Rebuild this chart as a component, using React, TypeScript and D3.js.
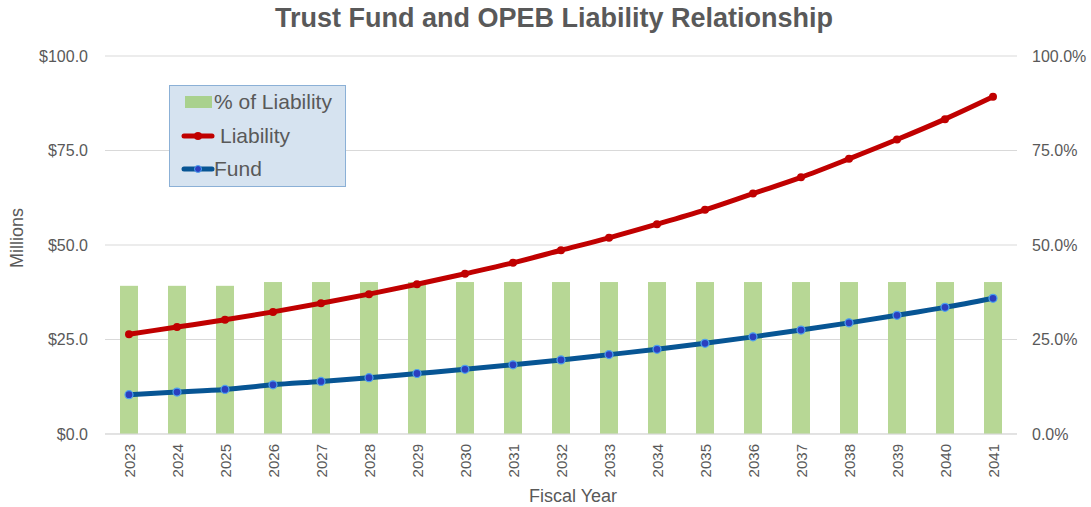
import React from "react";
import * as d3 from "d3";

const years = ["2023","2024","2025","2026","2027","2028","2029","2030","2031","2032","2033","2034","2035","2036","2037","2038","2039","2040","2041"];
const pctOfLiability = [39.2,39.2,39.2,40.2,40.2,40.2,40.2,40.2,40.2,40.2,40.2,40.2,40.2,40.2,40.2,40.2,40.2,40.2,40.2];
const liability = [26.4,28.3,30.2,32.3,34.6,37.0,39.6,42.4,45.3,48.6,51.9,55.5,59.3,63.6,67.9,72.8,77.9,83.3,89.2];
const fund = [10.4,11.1,11.8,13.0,13.9,14.9,16.0,17.1,18.3,19.6,21.0,22.4,24.0,25.7,27.5,29.4,31.4,33.5,35.9];
const leftTicks = [0,25,50,75,100];
const rightTicks = [0,25,50,75,100];

const W = 1091, H = 507;
const left = 105, right = 1017, top = 56, bottom = 434;
const FONT = "'Liberation Sans', Arial, sans-serif";
const TXT = "#595959";

export default function App() {
  const x = d3.scaleBand().domain(years).range([left, right]).paddingInner(0.625).paddingOuter(0.3125);
  const xc = d3.scalePoint().domain(years).range([left + 24, right - 24]);
  const yL = d3.scaleLinear().domain([0, 100]).range([bottom, top]);
  const yR = d3.scaleLinear().domain([0, 100]).range([bottom, top]);
  const line = d3.line<number>().x((_, i) => xc(years[i])!).y((d) => yL(d)).curve(d3.curveMonotoneX);

  return (
    <svg width={W} height={H} style={{ position: "absolute", left: 0, top: 0, background: "#fff", fontFamily: FONT }}>
      <text x={554} y={27} textAnchor="middle" fontSize={27} fontWeight="bold" fill={TXT}>
        Trust Fund and OPEB Liability Relationship
      </text>
      {leftTicks.map((t) => (
        <g key={"g" + t}>
          <line x1={left} x2={right} y1={yL(t)} y2={yL(t)} stroke="#d9d9d9" strokeWidth={1} />
          <text x={88} y={yL(t) + 5.5} textAnchor="end" fontSize={16} fill={TXT}>
            {"$" + d3.format(".1f")(t)}
          </text>
        </g>
      ))}
      {rightTicks.map((t) => (
        <text key={"r" + t} x={1032} y={yR(t) + 5.5} textAnchor="start" fontSize={16} fill={TXT}>
          {d3.format(".1f")(t) + "%"}
        </text>
      ))}
      <text transform={`translate(23,238) rotate(-90)`} textAnchor="middle" fontSize={18} fill={TXT}>Millions</text>
      <text x={573} y={502} textAnchor="middle" fontSize={18} fill={TXT}>Fiscal Year</text>
      {years.map((yr, i) => (
        <rect key={"b" + yr} x={x(yr)!} width={x.bandwidth()} y={yR(pctOfLiability[i])} height={bottom - yR(pctOfLiability[i])} fill="#b7d795" />
      ))}
      <line x1={left} x2={right} y1={bottom} y2={bottom} stroke="#d9d9d9" strokeWidth={1} />
      {years.map((yr) => (
        <text key={"t" + yr} transform={`translate(${xc(yr)! + 5.5},444) rotate(-90)`} textAnchor="end" fontSize={15} fill={TXT}>{yr}</text>
      ))}
      <path d={line(liability)!} fill="none" stroke="#c00000" strokeWidth={5} strokeLinejoin="round" />
      {liability.map((v, i) => (
        <circle key={"l" + i} cx={xc(years[i])!} cy={yL(v)} r={4} fill="#c00000" />
      ))}
      <path d={line(fund)!} fill="none" stroke="#075594" strokeWidth={5} strokeLinejoin="round" />
      {fund.map((v, i) => (
        <circle key={"f" + i} cx={xc(years[i])!} cy={yL(v)} r={4} fill="#2b3fbf" stroke="#4ea3f0" strokeWidth={1.2} />
      ))}
      <g>
        <rect x={169.5} y={85.5} width={176} height={101} fill="#d6e3f0" stroke="#8bb0d6" strokeWidth={1} />
        <rect x={185} y={96} width={27} height={12} fill="#a9d18e" />
        <text x={214} y={109} fontSize={21} fill={TXT}>% of Liability</text>
        <line x1={184} x2={212} y1={136} y2={136} stroke="#c00000" strokeWidth={5} strokeLinecap="round" />
        <circle cx={198} cy={136} r={4} fill="#c00000" />
        <text x={220} y={143} fontSize={21} fill={TXT}>Liability</text>
        <line x1={184} x2={212} y1={169} y2={169} stroke="#075594" strokeWidth={5} strokeLinecap="round" />
        <circle cx={198} cy={169} r={3.5} fill="#2b3fbf" stroke="#4ea3f0" strokeWidth={1} />
        <text x={214} y={176} fontSize={21} fill={TXT}>Fund</text>
      </g>
    </svg>
  );
}
